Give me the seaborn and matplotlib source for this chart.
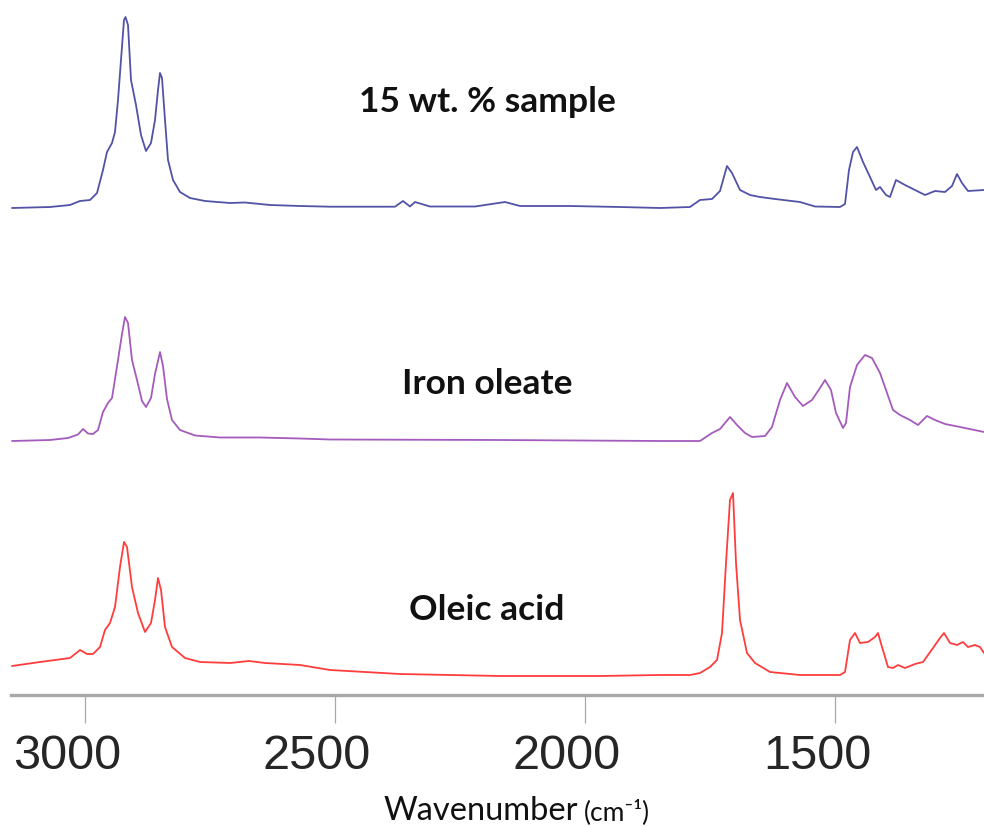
import numpy as np
import pandas as pd
import matplotlib
matplotlib.use("Agg")
import matplotlib.pyplot as plt
import matplotlib.transforms as mtransforms
import seaborn as sns

# ---------------- data (wavenumber in cm-1, absorbance in a.u.) ----------------
sample_wn = [3146, 3070, 3030, 3010, 2990, 2976, 2964, 2956, 2946, 2940, 2934, 2928, 2922, 2919,
             2914, 2908, 2898, 2888, 2878, 2868, 2860, 2854, 2850, 2846, 2840, 2834, 2824, 2810,
             2790, 2760, 2710, 2680, 2630, 2570, 2510, 2380, 2364, 2350, 2340, 2310, 2220, 2160,
             2130, 2030, 1930, 1850, 1790, 1770, 1746, 1730, 1716, 1706, 1690, 1670, 1650, 1620,
             1570, 1540, 1490, 1480, 1472, 1464, 1456, 1444, 1430, 1418, 1410, 1398, 1390, 1378,
             1360, 1340, 1320, 1300, 1280, 1266, 1256, 1246, 1234, 1202]
sample_abs = [0.00, 0.01, 0.03, 0.07, 0.08, 0.15, 0.38, 0.56, 0.65, 0.76, 1.08, 1.48, 1.88, 1.91,
              1.83, 1.28, 1.03, 0.73, 0.57, 0.65, 0.88, 1.18, 1.35, 1.30, 0.88, 0.48, 0.28, 0.16,
              0.10, 0.07, 0.05, 0.055, 0.03, 0.02, 0.013, 0.013, 0.07, 0.015, 0.06, 0.015, 0.015, 0.06,
              0.02, 0.02, 0.01, 0.00, 0.01, 0.08, 0.09, 0.17, 0.42, 0.35, 0.18, 0.13, 0.11, 0.09,
              0.06, 0.015, 0.01, 0.04, 0.38, 0.56, 0.61, 0.46, 0.31, 0.18, 0.21, 0.13, 0.11, 0.28,
              0.23, 0.18, 0.13, 0.17, 0.16, 0.22, 0.34, 0.25, 0.17, 0.18]

oleate_wn = [3146, 3070, 3034, 3014, 3004, 2994, 2984, 2974, 2964, 2954, 2946, 2934, 2926, 2920,
             2914, 2906, 2896, 2886, 2878, 2868, 2860, 2850, 2844, 2836, 2826, 2810, 2780, 2730,
             2650, 2570, 2510, 2170, 1850, 1770, 1746, 1730, 1710, 1696, 1680, 1666, 1640, 1626,
             1610, 1596, 1580, 1564, 1546, 1530, 1520, 1508, 1498, 1484, 1478, 1470, 1456, 1440,
             1426, 1410, 1398, 1384, 1370, 1350, 1334, 1316, 1300, 1280, 1250, 1202]
oleate_abs = [0.00, 0.01, 0.03, 0.065, 0.12, 0.075, 0.07, 0.11, 0.29, 0.38, 0.43, 0.81, 1.07, 1.24,
              1.18, 0.81, 0.61, 0.40, 0.34, 0.43, 0.67, 0.89, 0.75, 0.42, 0.21, 0.11, 0.055, 0.035,
              0.035, 0.025, 0.015, 0.01, 0.00, 0.00, 0.08, 0.12, 0.24, 0.16, 0.08, 0.04, 0.05, 0.14,
              0.41, 0.58, 0.44, 0.35, 0.41, 0.53, 0.61, 0.51, 0.28, 0.13, 0.18, 0.54, 0.76, 0.86,
              0.83, 0.68, 0.51, 0.31, 0.26, 0.21, 0.16, 0.25, 0.21, 0.17, 0.14, 0.09]

acid_wn = [3146, 3090, 3030, 3010, 2996, 2984, 2970, 2960, 2950, 2940, 2930, 2922, 2916, 2906,
           2894, 2880, 2868, 2860, 2854, 2848, 2840, 2826, 2800, 2770, 2710, 2672, 2640, 2570,
           2510, 2370, 2170, 1970, 1850, 1790, 1770, 1750, 1736, 1726, 1718, 1710, 1704, 1698,
           1690, 1676, 1660, 1630, 1570, 1490, 1480, 1470, 1460, 1450, 1434, 1420, 1414, 1406,
           1394, 1384, 1374, 1360, 1340, 1324, 1304, 1290, 1282, 1270, 1256, 1244, 1234, 1220,
           1210, 1202]
acid_abs = [0.10, 0.14, 0.18, 0.26, 0.22, 0.22, 0.29, 0.46, 0.53, 0.69, 1.09, 1.34, 1.29, 0.89,
            0.63, 0.44, 0.53, 0.76, 0.98, 0.86, 0.49, 0.29, 0.18, 0.14, 0.13, 0.15, 0.13, 0.11,
            0.06, 0.02, 0.00, 0.00, 0.01, 0.01, 0.03, 0.09, 0.16, 0.43, 1.13, 1.76, 1.83, 1.13,
            0.56, 0.23, 0.13, 0.04, 0.01, 0.01, 0.04, 0.36, 0.43, 0.33, 0.34, 0.39, 0.43, 0.29,
            0.09, 0.08, 0.11, 0.08, 0.12, 0.14, 0.28, 0.38, 0.43, 0.33, 0.31, 0.34, 0.29, 0.31,
            0.29, 0.23]

series_names = ["15 wt. % sample", "Iron oleate", "Oleic acid"]
series_offsets = [4.87, 2.54, 0.19]          # vertical stacking offsets (a.u.)
series_colors = ["#5252a6", "#a55bbd", "#ff3d3d"]
tick_values = [3000, 2500, 2000, 1500]
tick_labels = ["3000", "2500", "2000", "1500"]

frames = []
for name, wn, ab, off in zip(series_names,
                             [sample_wn, oleate_wn, acid_wn],
                             [sample_abs, oleate_abs, acid_abs],
                             series_offsets):
    frames.append(pd.DataFrame({"wn": wn, "y": np.array(ab) + off, "series": name}))
df = pd.concat(frames, ignore_index=True)

# ---------------- figure ----------------
sns.set_theme(style="white")
plt.rcParams["font.family"] = ["Lato", "DejaVu Sans"]

fig = plt.figure(figsize=(9.84, 8.27), dpi=100)
ax = fig.add_axes([11 / 984, 132 / 827, 1 - 11 / 984, 1 - 132 / 827])

sns.lineplot(data=df, x="wn", y="y", hue="series", palette=series_colors,
             hue_order=series_names, sort=False, estimator=None, linewidth=1.3,
             legend=False, ax=ax)
for ln in ax.lines:
    ln.set_solid_joinstyle("round")

ax.set_xlim(3148, 1202)
ax.set_ylim(0, 6.95)

for s in ["top", "left", "right"]:
    ax.spines[s].set_visible(False)
ax.spines["bottom"].set_color("#a8a8a8")
ax.spines["bottom"].set_linewidth(2.4)
ax.set_yticks([])
ax.set_xticks(tick_values)
ax.set_xticklabels(tick_labels, fontfamily="Liberation Sans", fontsize=35)
ax.tick_params(axis="x", direction="out", length=20, width=0.9, color="#a8a8a8",
               pad=8, bottom=True)
shift = mtransforms.ScaledTranslation(-18 / 100, 0, fig.dpi_scale_trans)
for lbl in ax.get_xticklabels():
    lbl.set_transform(lbl.get_transform() + shift)
ax.set_xlabel("")
ax.set_ylabel("")

# series labels
label_x = 2196
label_y = [5.83, 3.01, 0.75]
for name, ly in zip(series_names, label_y):
    ax.text(label_x, ly, name, ha="center", va="baseline", fontsize=25.5,
            fontweight="bold", color="#111111")

# axis title
fig.text(383 / 984, 7 / 827, "Wavenumber", ha="left", va="baseline", fontsize=23.5,
         color="#111111")
fig.text(584 / 984, 7 / 827, "(cm\u207b\u00b9)", ha="left", va="baseline", fontsize=19,
         color="#111111", family=["Lato", "DejaVu Sans"])

fig.savefig("out.png", dpi=100, facecolor="white")
